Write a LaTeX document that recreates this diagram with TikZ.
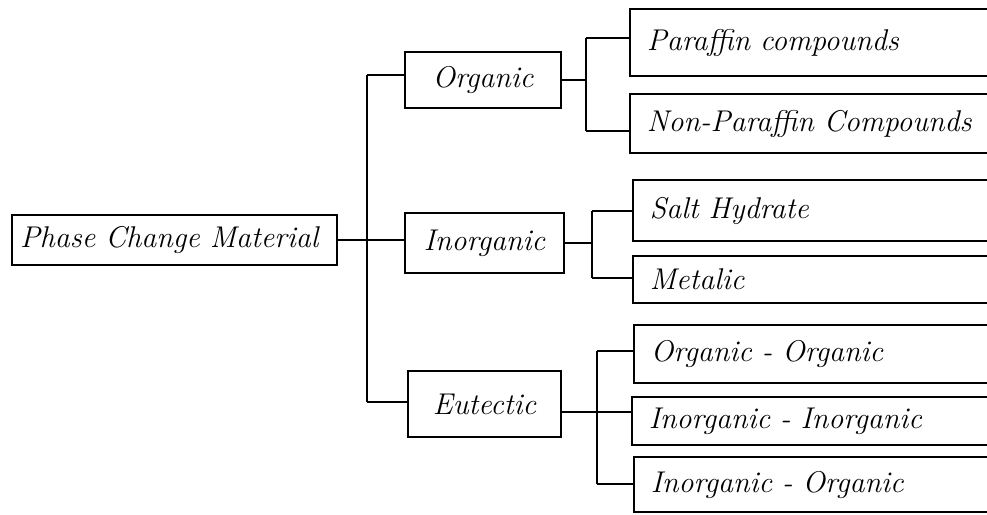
\documentclass[tikz,border=0pt]{standalone}
\usepackage{tikz}
\usetikzlibrary{positioning}
\tikzset{
x=1pt, y=-1pt, % one unit is one pixel of the sketch, y going down
every picture/.style={line width=1.8pt}, % plain black lines everywhere
every node/.style={font=\fontsize{30}{34}\selectfont\itshape},
box/.style={draw, inner sep=0pt, align=center}, % boxes of the first two levels
leaf/.style={draw, anchor=west, text width=346pt, inner xsep=17pt, inner ysep=0pt, align=left}, % boxes on the right, open past the edge
}

\begin{document}
\begin{tikzpicture}
    \useasboundingbox (0,0) rectangle (987,514);
    \clip (0,0) rectangle (987,514);
    % first two levels
    \node[box, text width=309pt, inner xsep=8pt, align=left, minimum height=50pt] (pcm) at (174.5,240) {Phase Change Material};
    \node[box, minimum width=156pt, minimum height=56pt] (org) at (483,80) {Organic};
    \node[box, minimum width=159pt, minimum height=60pt] (inorg) at (484.5,243) {Inorganic};
    \node[box, minimum width=153pt, minimum height=66pt] (eut) at (484.5,404) {Eutectic};
    % leaves
    \node[leaf, minimum height=67pt] (par) at (629,42.5) {Paraffin compounds};
    \node[leaf, minimum height=59pt] (npar) at (629,123.5) {Non-Paraffin Compounds};
    \node[leaf, minimum height=61pt] (salt) at (632,210.5) {Salt Hydrate};
    \node[leaf, minimum height=47pt] (met) at (632,279.5) {Metalic};
    \node[leaf, minimum height=58pt] (oo) at (633,354) {Organic - Organic};
    \node[leaf, minimum height=48pt] (ii) at (631,421) {Inorganic - Inorganic};
    \node[leaf, minimum height=55pt] (io) at (633,484.5) {Inorganic - Organic};
    % bracket points
    \coordinate (top) at (367,75);
    \coordinate (bot) at (367,402);
    \coordinate (o1) at (586,38);
    \coordinate (o2) at (586,131);
    \coordinate (i1) at (592,211);
    \coordinate (i2) at (592,278);
    \coordinate (e1) at (597,351);
    \coordinate (e2) at (597,412);
    \coordinate (e3) at (597,484);
    \draw
    (top) -- (bot)
    (top) -- (top -| org.west)
    (bot) -- (bot -| eut.west)
    (pcm.east) -- (pcm.east -| inorg.west);
    \draw
    (org.east) -- (org.east -| o1)
    (o1) -- (o2)
    (o1) -- (o1 -| par.west)
    (o2) -- (o2 -| npar.west);
    \draw
    (inorg.east) -- (inorg.east -| i1)
    (i1) -- (i2)
    (i1) -- (i1 -| salt.west)
    (i2) -- (i2 -| met.west);
    \draw
    (e1) -- (e3)
    (e1) -- (e1 -| oo.west)
    (e3) -- (e3 -| io.west)
    (eut.east |- e2) -- (e2 -| ii.west);
\end{tikzpicture}
\end{document}
